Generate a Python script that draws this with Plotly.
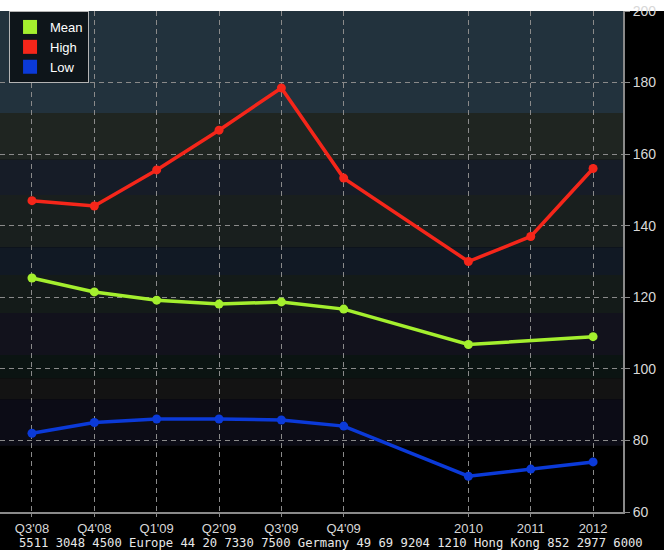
import plotly.graph_objects as go

# ---- data ----
periods = ["Q3'08", "Q4'08", "Q1'09", "Q2'09", "Q3'09", "Q4'09", "2010", "2011", "2012"]
positions = [0, 1, 2, 3, 4, 5, 7, 8, 9]
mean_vals = [125.4, 121.5, 119.2, 118.1, 118.7, 116.7, 106.8, None, 109.0]
high_vals = [147.0, 145.5, 155.6, 166.7, 178.5, 153.3, 130.0, 137.0, 156.0]
low_vals = [82.0, 85.0, 86.0, 86.0, 85.7, 84.0, 70.0, 72.0, 74.0]
series_names = ["Mean", "High", "Low"]
series_colors = ["#a4ef2e", "#f5261a", "#0b3ad8"]
y_ticks = [60, 80, 100, 120, 140, 160, 180, 200]
footer = "5511 3048 4500 Europe 44 20 7330 7500 Germany 49 69 9204 1210 Hong Kong 852 2977 6000"

# background bands (value ranges and colours)
band_lo = [171.5, 158.4, 148.6, 134.0, 126.2, 115.6, 103.9, 97.4, 91.5, 78.5]
band_hi = [200.0, 171.5, 158.4, 148.6, 134.0, 126.2, 115.6, 103.9, 97.4, 91.5]
band_col = ["#22323d", "#1f2521", "#161c27", "#191f1e", "#111924",
            "#141b19", "#12121c", "#0b1412", "#131313", "#0c0c16"]

fig = go.Figure()

for name, vals, col in zip(series_names, [mean_vals, high_vals, low_vals], series_colors):
    fig.add_trace(go.Scatter(
        x=positions, y=vals, mode="lines+markers", name=name,
        line=dict(color=col, width=3.5), marker=dict(color=col, size=9),
        connectgaps=True, showlegend=False, hoverinfo="x+y"))

# legend entries as squares
for name, col in zip(series_names, series_colors):
    fig.add_trace(go.Scatter(
        x=[None], y=[None], mode="markers", name=name,
        marker=dict(color=col, size=14, symbol="square"), showlegend=True))

shapes = []
# black surround below and right of the plot area (paper is white for the top strip)
shapes.append(dict(type="rect", xref="paper", yref="paper", x0=-0.05, x1=1.2,
                   y0=-0.2, y1=1.0, fillcolor="black", line=dict(width=0), layer="below"))
for lo, hi, c in zip(band_lo, band_hi, band_col):
    shapes.append(dict(type="rect", xref="paper", yref="y", x0=0, x1=1, y0=lo, y1=hi,
                       fillcolor=c, line=dict(width=0), layer="below"))

fig.update_layout(
    width=664, height=550,
    margin=dict(l=0, r=41, t=11, b=38, pad=0),
    paper_bgcolor="white", plot_bgcolor="black",
    font=dict(family="Liberation Sans, Arial, sans-serif", color="#d8d8d8", size=14),
    shapes=shapes,
    showlegend=True,
    legend=dict(x=0.0145, y=1.0, xanchor="left", yanchor="top",
                bgcolor="#0e151a", bordercolor="#b4b4b4", borderwidth=1,
                font=dict(color="white", size=13, family="Liberation Sans, Arial, sans-serif"),
                itemsizing="trace", itemwidth=30, tracegroupgap=0),
    xaxis=dict(range=[-0.513, 9.48], tickmode="array", tickvals=positions, ticktext=periods,
               showgrid=True, gridcolor="#8a8a8a", griddash="5px,4px", gridwidth=1,
               zeroline=False, showline=True, linecolor="#8a8a8a", linewidth=2,
               ticks="outside", ticklen=3, tickcolor="#8a8a8a",
               tickfont=dict(size=13, color="#d8d8d8")),
    yaxis=dict(range=[60, 200], side="right", tickmode="array", tickvals=y_ticks,
               showgrid=True, gridcolor="#8a8a8a", griddash="5px,4px", gridwidth=1,
               zeroline=False, showline=True, linecolor="#8a8a8a", linewidth=2,
               ticks="outside", ticklen=5, tickcolor="#8a8a8a",
               tickfont=dict(size=14, color="#d8d8d8")),
    annotations=[dict(text=footer, xref="paper", yref="paper", x=645 / 623, y=-30.5 / 501,
                      xanchor="right", yanchor="middle", showarrow=False,
                      font=dict(family="DejaVu Sans Mono, monospace", size=12.2, color="#e8e8e8"))],
)

fig.write_html("out.html", config={"displayModeBar": False},
               post_script="document.body.style.margin='0';document.body.style.overflow='hidden';")
